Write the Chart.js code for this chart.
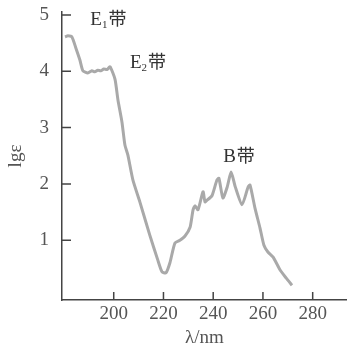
<!DOCTYPE html>
<html>
<head>
<meta charset="utf-8">
<script src="https://cdn.jsdelivr.net/npm/chart.js@4.4.0/dist/chart.umd.min.js"></script>
<style>
  html, body { margin: 0; padding: 0; background: #fff; }
  #wrap { width: 347px; height: 348px; }
</style>
</head>
<body>
<div id="wrap"><canvas id="chart"></canvas></div>
<script>
// absorption spectrum of benzene (lg epsilon vs wavelength)
const wavelengths = [180.4, 181.6, 183.2, 184.8, 186.4, 187.6, 189.6, 191.2, 192.4, 193.6, 194.8, 196.0, 197.3, 198.5,
  200.5, 201.7, 203.3, 204.5, 205.7, 207.7, 210.5, 214.5, 217.7, 219.4, 221.0, 222.6, 224.6, 226.6, 228.6,
  230.7, 231.9, 232.7, 233.9, 235.9, 236.7, 237.5, 239.5, 241.5, 242.3, 243.9, 245.6, 247.2, 248.8, 251.6,
  254.0, 254.8, 256.8, 258.8, 260.4, 262.0, 264.1, 266.9, 269.3, 271.7];
const logEps = [4.61, 4.63, 4.61, 4.41, 4.20, 4.01, 3.97, 4.01, 3.99, 4.02, 4.01, 4.04, 4.03, 4.08,
  3.86, 3.49, 3.10, 2.69, 2.51, 2.07, 1.68, 1.09, 0.65, 0.44, 0.42, 0.60, 0.95, 1.00, 1.07,
  1.23, 1.54, 1.61, 1.54, 1.86, 1.68, 1.71, 1.79, 2.07, 2.10, 1.75, 1.94, 2.21, 1.96, 1.63,
  1.94, 1.98, 1.57, 1.22, 0.91, 0.79, 0.70, 0.47, 0.33, 0.20];
const xTicks = [200, 220, 240, 260, 280];
const yTicks = [1, 2, 3, 4, 5];

const FONT = '"Liberation Serif", "Noto Sans CJK SC", serif';
const TEXT = '#555';

const innerTicks = {
  id: 'innerTicks',
  afterDraw(chart) {
    const { ctx, chartArea, scales } = chart;
    ctx.save();
    ctx.strokeStyle = '#444';
    ctx.lineWidth = 1.5;
    ctx.beginPath();
    yTicks.forEach(v => {
      const y = scales.y.getPixelForValue(v);
      ctx.moveTo(chartArea.left, y);
      ctx.lineTo(chartArea.left + 9, y);
    });
    xTicks.forEach(v => {
      const x = scales.x.getPixelForValue(v);
      ctx.moveTo(x, chartArea.bottom);
      ctx.lineTo(x, chartArea.bottom - 8);
    });
    ctx.stroke();

    // band labels
    const bands = [
      { x: 190.6, y: 4.91, main: 'E', sub: '1' },
      { x: 206.5, y: 4.15, main: 'E', sub: '2' },
      { x: 244.0, y: 2.48, main: 'B', sub: '' }
    ];
    ctx.fillStyle = '#333';
    ctx.textBaseline = 'middle';
    ctx.textAlign = 'left';
    bands.forEach(b => {
      let px = scales.x.getPixelForValue(b.x);
      const py = scales.y.getPixelForValue(b.y);
      ctx.font = '19px ' + FONT;
      ctx.fillText(b.main, px, py);
      px += ctx.measureText(b.main).width;
      if (b.sub) {
        ctx.font = '11px ' + FONT;
        ctx.fillText(b.sub, px, py + 5);
        px += ctx.measureText(b.sub).width;
      }
      ctx.font = '18px ' + FONT;
      ctx.fillText('带', px + 1, py);
    });
    ctx.restore();
  }
};

new Chart(document.getElementById('chart'), {
  type: 'line',
  data: {
    datasets: [{
      data: wavelengths.map((w, i) => ({ x: w, y: logEps[i] })),
      borderColor: '#a9a9a9',
      borderWidth: 3,
      pointRadius: 0,
      tension: 0.2,
      fill: false
    }]
  },
  options: {
    responsive: true,
    maintainAspectRatio: false,
    animation: false,
    layout: { padding: { top: 12, right: 0, left: 0, bottom: 0 }, autoPadding: false },
    plugins: { legend: { display: false }, tooltip: { enabled: false } },
    scales: {
      x: {
        type: 'linear',
        min: 179.2,
        max: 293.8,
        afterBuildTicks: s => { s.ticks = xTicks.map(v => ({ value: v })); },
        afterFit: s => { s.height = 48; s.paddingLeft = 0; s.paddingRight = 0; },
        grid: { display: false, drawTicks: false },
        border: { display: true, color: '#444', width: 1.5 },
        ticks: { color: TEXT, padding: 3, maxRotation: 0, font: { family: FONT, size: 19 } },
        title: { display: true, text: 'λ/nm', color: TEXT, padding: 0, font: { family: FONT, size: 19, lineHeight: 1 } }
      },
      y: {
        type: 'linear',
        min: -0.062,
        max: 5.053,
        afterBuildTicks: s => { s.ticks = yTicks.map(v => ({ value: v })); },
        afterFit: s => { s.width = 62; s.paddingTop = 0; s.paddingBottom = 0; },
        grid: { display: false, drawTicks: false },
        border: { display: true, color: '#444', width: 1.5 },
        ticks: { color: TEXT, padding: 13, font: { family: FONT, size: 19 } },
        title: { display: true, text: 'lgε', color: TEXT, padding: 5, font: { family: FONT, size: 19 } }
      }
    }
  },
  plugins: [innerTicks]
});
</script>
</body>
</html>
